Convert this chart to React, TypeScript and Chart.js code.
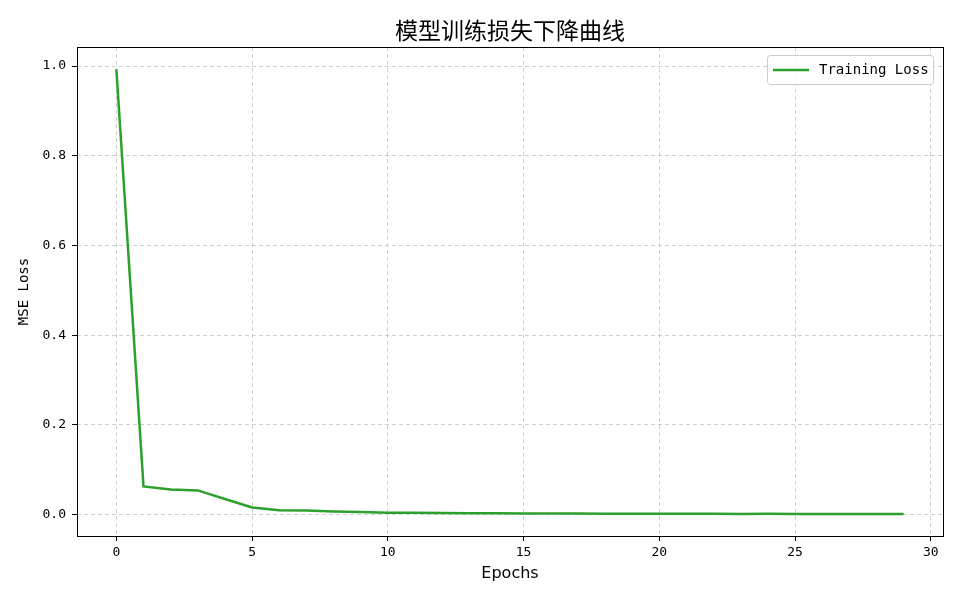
import React, { useEffect, useRef } from "react";
import { Chart, registerables } from "chart.js";

Chart.register(...registerables);

const epochs: number[] = Array.from({ length: 30 }, (_, i) => i);
const lossValues: number[] = [
  0.993, 0.063, 0.056, 0.054, 0.035, 0.016, 0.01, 0.009, 0.007, 0.006,
  0.0045, 0.004, 0.0036, 0.0032, 0.0029, 0.0026, 0.0024, 0.0023, 0.0021, 0.002,
  0.0021, 0.002, 0.0018, 0.0017, 0.0018, 0.0016, 0.0016, 0.0015, 0.0015, 0.0014,
];
const xTicks: number[] = [0, 5, 10, 15, 20, 25, 30];
const yTicks: number[] = [0, 0.2, 0.4, 0.6, 0.8, 1.0];
const titleText = "模型训练损失下降曲线";
const xLabel = "Epochs";
const yLabel = "MSE Loss";
const seriesLabel = "Training Loss";
const lineColor = "#2ca02c";

const monoFont = "'DejaVu Sans Mono', 'Noto Sans CJK SC', monospace";

const frameAndLegend = {
  id: "frameAndLegend",
  afterDraw(chart: any) {
    const { ctx, chartArea } = chart;
    const { left, top, right, bottom } = chartArea;
    ctx.save();
    ctx.strokeStyle = "#000";
    ctx.lineWidth = 1;
    ctx.setLineDash([]);
    ctx.strokeRect(Math.round(left) + 0.5, Math.round(top) + 0.5, Math.round(right - left), Math.round(bottom - top));
    // title centered over the plot area
    ctx.fillStyle = "#000";
    ctx.font = "23px 'Noto Sans CJK SC', sans-serif";
    ctx.textAlign = "center";
    ctx.textBaseline = "middle";
    ctx.fillText(titleText, (left + right) / 2, 30);
    // legend
    const bw = 166, bh = 29;
    const bx = right - 10 - bw;
    const by = top + 8;
    ctx.fillStyle = "rgba(255,255,255,0.85)";
    ctx.strokeStyle = "#cccccc";
    ctx.lineWidth = 1;
    ctx.beginPath();
    (ctx as any).roundRect(bx + 0.5, by + 0.5, bw, bh, 3);
    ctx.fill();
    ctx.stroke();
    ctx.strokeStyle = lineColor;
    ctx.lineWidth = 2.5;
    ctx.beginPath();
    ctx.moveTo(bx + 6, by + bh / 2 + 0.5);
    ctx.lineTo(bx + 42, by + bh / 2 + 0.5);
    ctx.stroke();
    ctx.fillStyle = "#000";
    ctx.font = "14px " + monoFont;
    ctx.textBaseline = "middle";
    ctx.textAlign = "left";
    ctx.fillText(seriesLabel, bx + 52, by + bh / 2 + 1);
    ctx.restore();
  },
};

const gridOpts = {
  color: "rgba(175,175,175,0.6)",
  lineWidth: 1,
  drawTicks: true,
  tickLength: 5,
  tickColor: "#000",
  tickBorderDash: [],
  tickWidth: 1,
};

export default function App() {
  const ref = useRef<HTMLCanvasElement | null>(null);
  useEffect(() => {
    if (!ref.current) return;
    const chart = new Chart(ref.current, {
      type: "line",
      data: {
        datasets: [
          {
            label: seriesLabel,
            data: epochs.map((e, i) => ({ x: e, y: lossValues[i] })),
            borderColor: lineColor,
            backgroundColor: lineColor,
            borderWidth: 2.5,
            pointRadius: 0,
            tension: 0,
            fill: false,
          },
        ],
      },
      options: {
        animation: false,
        responsive: false,
        maintainAspectRatio: false,
        layout: { padding: { left: 0, right: 17, top: 47, bottom: 0 } },
        plugins: {
          legend: { display: false },
          tooltip: { enabled: false },
          title: { display: false },
        },
        scales: {
          x: {
            type: "linear",
            min: -1.45,
            max: 30.45,
            afterBuildTicks: (scale: any) => {
              scale.ticks = xTicks.map((v) => ({ value: v }));
            },
            afterFit: (scale: any) => {
              scale.height = 64;
            },
            border: { display: false, dash: [4, 3] },
            grid: gridOpts,
            ticks: {
              color: "#000",
              font: { family: monoFont, size: 13 },
              padding: 4,
              maxRotation: 0,
              callback: (v: any) => String(v),
            },
            title: {
              display: true,
              text: xLabel,
              color: "#000",
              font: { family: "'DejaVu Sans', sans-serif", size: 16 },
              padding: { top: 0, bottom: 17 },
            },
          },
          y: {
            type: "linear",
            min: -0.0476,
            max: 1.0426,
            afterBuildTicks: (scale: any) => {
              scale.ticks = yTicks.map((v) => ({ value: v }));
            },
            afterFit: (scale: any) => {
              scale.width = 77;
            },
            border: { display: false, dash: [4, 3] },
            grid: gridOpts,
            ticks: {
              color: "#000",
              font: { family: monoFont, size: 13 },
              padding: 6,
              callback: (v: any) => Number(v).toFixed(1),
            },
            title: {
              display: true,
              text: yLabel,
              color: "#000",
              font: { family: monoFont, size: 14 },
              padding: { top: 16, bottom: 0 },
            },
          },
        },
      },
      plugins: [frameAndLegend],
    } as any);
    return () => chart.destroy();
  }, []);
  return (
    <div style={{ position: "fixed", left: 0, top: 0, width: 960, height: 600, background: "#fff" }}>
      <canvas ref={ref} width={960} height={600} style={{ width: 960, height: 600, display: "block" }} />
    </div>
  );
}
